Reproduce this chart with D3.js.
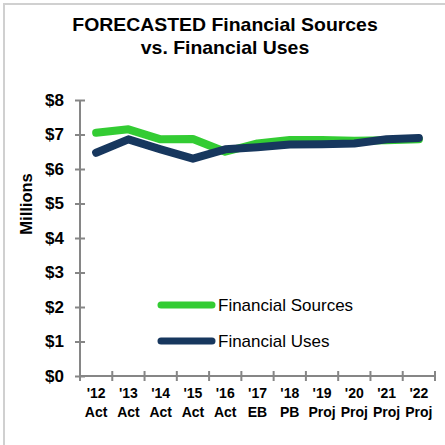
<!DOCTYPE html>
<html lang="en">
<head>
    <meta charset="UTF-8">
    <title>Forecasted Financial Sources vs. Financial Uses</title>
    <style type="text/css">
        body { margin: 0; background: #fff; }
        text { font-family: Arial, "Liberation Sans", sans-serif; fill: #000; }
        .line { fill: none; stroke-width: 8; stroke-linejoin: round; stroke-linecap: round; }
        .axis path, .axis line { stroke: #868686; stroke-width: 2; }
    </style>
    <script src="https://cdn.jsdelivr.net/npm/d3@7/dist/d3.min.js"></script>
</head>
<body>
<div id="vis"></div>
<script type="text/javascript">

    let years = ["'12", "'13", "'14", "'15", "'16", "'17", "'18", "'19", "'20", "'21", "'22"];
    let kinds = ["Act", "Act", "Act", "Act", "Act", "EB", "PB", "Proj", "Proj", "Proj", "Proj"];
    let sources = [7.05, 7.15, 6.86, 6.87, 6.5, 6.74, 6.84, 6.84, 6.82, 6.83, 6.86];
    let uses = [6.47, 6.86, 6.57, 6.3, 6.57, 6.63, 6.71, 6.72, 6.74, 6.86, 6.9];
    let yTicks = [0, 1, 2, 3, 4, 5, 6, 7, 8];
    let seriesNames = ["Financial Sources", "Financial Uses"];
    let seriesColors = ["#33cc33", "#17375e"];

    let svg = d3.select("#vis").append("svg")
        .attr("width", 445)
        .attr("height", 445);

    // chart border
    svg.append("rect")
        .attr("x", 4).attr("y", 4)
        .attr("width", 450).attr("height", 450)
        .attr("fill", "none")
        .attr("stroke", "#d0d0d0")
        .attr("stroke-width", 2);

    // title (reference text is a bit wider than plain Arial, so stretch it slightly)
    let title = svg.append("text")
        .attr("text-anchor", "middle")
        .attr("transform", "translate(225,0) scale(1.08,1)")
        .style("font-size", "18px")
        .style("font-weight", "bold");
    title.append("tspan").attr("x", 0).attr("y", 31).text("FORECASTED Financial Sources");
    title.append("tspan").attr("x", 0).attr("y", 54).text("vs. Financial Uses");

    let plotLeft = 80, plotRight = 435, plotTop = 100, plotBottom = 376;

    let xScale = d3.scaleBand()
        .domain(years)
        .range([plotLeft, plotRight]);

    let yScale = d3.scaleLinear()
        .domain([0, 8])
        .range([plotBottom, plotTop]);

    // y axis
    let yAxis = svg.append("g")
        .attr("class", "axis")
        .attr("transform", "translate(" + plotLeft + ",0)")
        .call(d3.axisLeft(yScale).tickValues(yTicks).tickSize(5).tickFormat(d => "$" + d));
    yAxis.select(".domain").attr("d", "M0," + plotTop + "V" + plotBottom);
    yAxis.selectAll(".tick line").attr("x1", 5).attr("x2", -5);
    yAxis.selectAll(".tick text")
        .attr("x", -16)
        .style("font-size", "17px")
        .style("font-weight", "bold");

    // x axis
    let xAxis = svg.append("g")
        .attr("class", "axis")
        .attr("transform", "translate(0," + plotBottom + ")");
    xAxis.append("line")
        .attr("x1", plotLeft).attr("x2", plotRight)
        .attr("y1", 0).attr("y2", 0);
    let edges = years.map(d => xScale(d)).concat([plotRight]);
    xAxis.selectAll(".xtick").data(edges).enter().append("line")
        .attr("class", "xtick")
        .attr("x1", d => d).attr("x2", d => d)
        .attr("y1", -5).attr("y2", 5);
    let xLabels = xAxis.selectAll(".xlabel").data(years).enter().append("text")
        .attr("class", "xlabel")
        .attr("text-anchor", "middle")
        .style("font-size", "14px")
        .style("font-weight", "bold");
    xLabels.append("tspan")
        .attr("x", d => xScale(d) + xScale.bandwidth() / 2)
        .attr("y", 22)
        .text(d => d);
    xLabels.append("tspan")
        .attr("x", d => xScale(d) + xScale.bandwidth() / 2)
        .attr("y", 41)
        .text((d, i) => kinds[i]);

    // y axis title
    svg.append("text")
        .attr("transform", "translate(32,204) rotate(-90)")
        .attr("text-anchor", "middle")
        .style("font-size", "16.5px")
        .style("font-weight", "bold")
        .text("Millions");

    let line = d3.line()
        .x((d, i) => xScale(years[i]) + xScale.bandwidth() / 2)
        .y(d => yScale(d));

    [sources, uses].forEach(function (vals, i) {
        svg.append("path")
            .datum(vals)
            .attr("class", "line")
            .attr("stroke", seriesColors[i])
            .attr("d", line);
    });

    // legend
    seriesNames.forEach(function (name, i) {
        let ly = 305 + i * 36;
        svg.append("line")
            .attr("x1", 161).attr("x2", 212)
            .attr("y1", ly).attr("y2", ly)
            .attr("stroke", seriesColors[i])
            .attr("stroke-width", 7)
            .attr("stroke-linecap", "round");
        svg.append("text")
            .attr("x", 218).attr("y", ly + 6)
            .style("font-size", "17px")
            .text(name);
    });
</script>
</body>
</html>
